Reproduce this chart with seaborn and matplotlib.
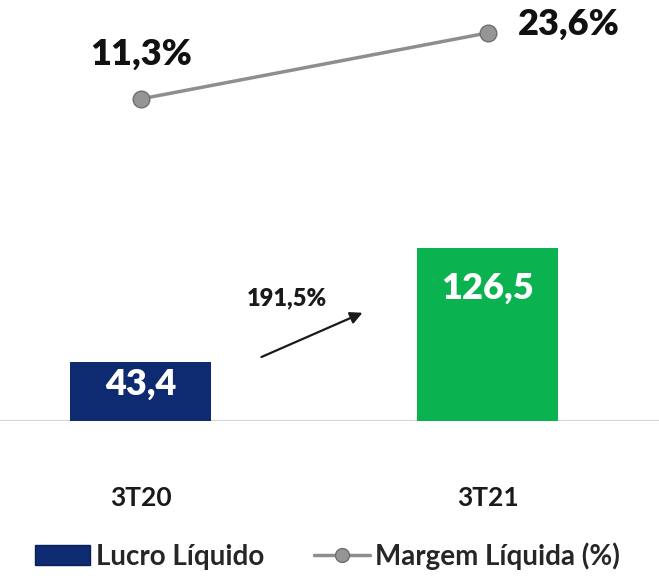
import numpy as np
import seaborn as sns
import matplotlib.pyplot as plt
from matplotlib.patches import Patch
from matplotlib.lines import Line2D

# dados
categorias = ["3T20", "3T21"]
lucro = [43.4, 126.5]
margem = [11.3, 23.6]
lucro_labels = ["43,4", "126,5"]
margem_labels = ["11,3%", "23,6%"]
variacao_label = "191,5%"
cores_barras = ["#0e2a70", "#0ab34f"]

sns.set_style("white")
plt.rcParams["font.family"] = ["Lato", "DejaVu Sans"]
plt.rcParams["font.weight"] = "bold"

fig = plt.figure(figsize=(6.59, 5.76), dpi=100)
ax = fig.add_axes([0, 155 / 576, 1, 421 / 576])

# barras
sns.barplot(x=categorias, y=lucro, hue=categorias, palette=cores_barras,
            saturation=1, legend=False, width=0.406, ax=ax, edgecolor="none")
ax.set_xlim(-0.405, 1.494)
ax.set_ylim(0, 308)
ax.axhline(0, color="#d4d4d4", lw=1.5, zorder=0)

# rotulos das barras
offsets = [-23, -40]
for i, (v, lab) in enumerate(zip(lucro, lucro_labels)):
    ax.annotate(lab, xy=(i, v), xytext=(0, offsets[i]), textcoords="offset pixels",
                ha="center", va="center", color="white", fontsize=26, fontweight="heavy")

# categorias
for i, c in enumerate(categorias):
    ax.annotate(c, xy=(i, 0), xytext=(0, -77), textcoords="offset pixels",
                ha="center", va="center", color="#1a1a1a", fontsize=19, fontweight="bold")

# seta de variacao
ax.annotate("", xy=(0.647, 80), xytext=(0.341, 46),
            arrowprops=dict(arrowstyle="-|>", color="#1a1a1a", lw=1.6, mutation_scale=18))
ax.text(0.423, 90, variacao_label, ha="center", va="center", fontsize=17,
        fontweight="heavy", color="#1a1a1a")

# margem liquida
ax2 = ax.twinx()
sns.lineplot(x=np.arange(len(categorias)), y=margem, ax=ax2, color="#8e8e8e",
             lw=2.5, marker="o", markersize=12, markerfacecolor="#959595",
             markeredgecolor="#6f6f6f", markeredgewidth=1)
ax2.set_ylim(-48.7, 29.74)
ax2.set_xlim(-0.405, 1.494)

pos_labels = [(1, 45), (81, 9)]
for i, (v, lab) in enumerate(zip(margem, margem_labels)):
    ax2.annotate(lab, xy=(i, v), xytext=pos_labels[i], textcoords="offset pixels",
                 ha="center", va="center", color="#111111", fontsize=26, fontweight="heavy")

for a in (ax, ax2):
    a.set_xticks([])
    a.set_yticks([])
    a.set_xlabel("")
    a.set_ylabel("")
    for s in a.spines.values():
        s.set_visible(False)
    a.patch.set_alpha(0)

# legenda
handles = [Patch(facecolor=cores_barras[0], edgecolor="#0a1f55"),
           Line2D([0], [0], color="#8e8e8e", lw=2.5, marker="o", markersize=10,
                  markerfacecolor="#959595", markeredgecolor="#6f6f6f")]
fig.legend(handles, ["Lucro Líquido", "Margem Líquida (%)"], loc="center",
           bbox_to_anchor=(0.497, 20 / 576), ncol=2, frameon=False,
           handlelength=2.0, handletextpad=0.2, columnspacing=1.8,
           prop={"weight": "bold", "size": 20})

fig.savefig("out.png", dpi=100)
